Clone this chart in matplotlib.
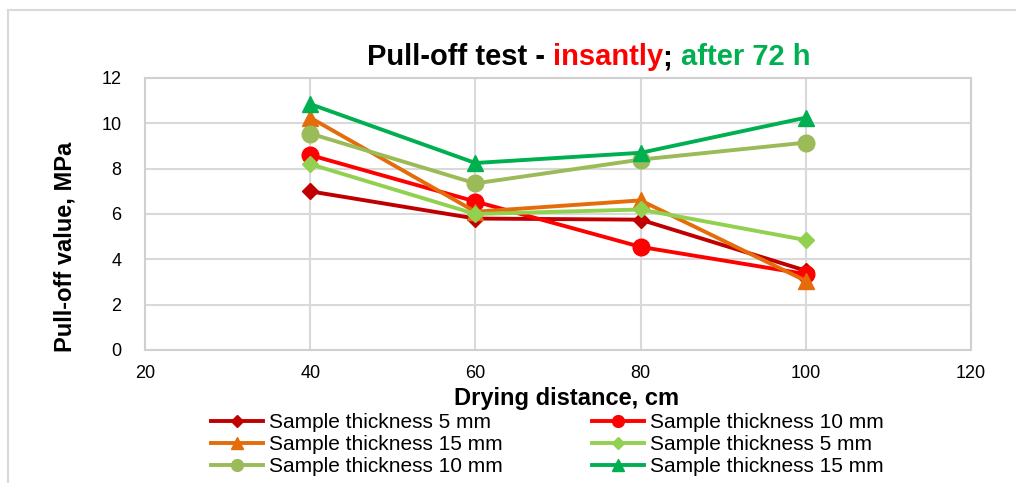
import matplotlib.pyplot as plt
from matplotlib.lines import Line2D

plt.rcParams['font.family'] = ['Liberation Sans', 'DejaVu Sans']

# Drying distance, cm
distance = [40, 60, 80, 100]

# Pull-off values, MPa (insantly)
ins_5mm = [7.0, 5.8, 5.75, 3.5]
ins_10mm = [8.6, 6.55, 4.55, 3.35]
ins_15mm = [10.25, 6.1, 6.6, 3.05]
# Pull-off values, MPa (after 72 h)
h72_5mm = [8.2, 6.0, 6.2, 4.85]
h72_10mm = [9.55, 7.35, 8.4, 9.15]
h72_15mm = [10.85, 8.25, 8.7, 10.25]

labels = ['Sample thickness 5 mm', 'Sample thickness 10 mm', 'Sample thickness 15 mm',
          'Sample thickness 5 mm', 'Sample thickness 10 mm', 'Sample thickness 15 mm']
series = [ins_5mm, ins_10mm, ins_15mm, h72_5mm, h72_10mm, h72_15mm]
colors = ['#C00000', '#FF0000', '#E46C0A', '#92D050', '#9BBB59', '#00B050']
markers = ['D', 'o', '^', 'D', 'o', '^']
msizes = [8, 12, 12, 8, 12, 12]

fig = plt.figure(figsize=(10.16, 4.83), dpi=100)
ax = fig.add_axes([145 / 1016, 1 - 350 / 483, (971 - 145) / 1016, (350 - 78) / 483])

for y, c, m, ms, lab in zip(series, colors, markers, msizes, labels):
    ax.plot(distance, y, color=c, lw=2.8, marker=m, ms=ms, label=lab, zorder=3)

ax.set_xlim(20, 120)
ax.set_ylim(0, 12)
ax.set_xticks(range(20, 121, 20))
ax.set_yticks(range(0, 13, 2))
ax.grid(True, color='#D9D9D9', lw=1.5)
ax.set_axisbelow(True)
for s in ax.spines.values():
    s.set_color('#D0D0D0')
    s.set_linewidth(1.5)
ax.tick_params(length=0, labelsize=13, colors='black')
ax.tick_params(axis='y', pad=17)
ax.tick_params(axis='x', pad=11)

ax.set_xlabel('Drying distance, cm', fontsize=17, fontweight='bold')
ax.set_ylabel('Pull-off value, MPa', fontsize=17, fontweight='bold')
ax.xaxis.set_label_coords(0.51, -0.135)
ax.yaxis.set_label_coords(-0.083, 0.38)

# title in three colours
tsize = 21
t1 = fig.text(367 / 1016, 1 - 65 / 483, 'Pull-off test - ', fontsize=tsize,
              fontweight='bold', color='black')
t2 = fig.text(0, 0, 'insantly', fontsize=tsize, fontweight='bold', color='#FF0000')
t3 = fig.text(0, 0, '; ', fontsize=tsize, fontweight='bold', color='black')
t4 = fig.text(0, 0, 'after 72 h', fontsize=tsize, fontweight='bold', color='#00B050')
fig.canvas.draw()
r = fig.canvas.get_renderer()
prev = t1
for t in (t2, t3, t4):
    bb = prev.get_window_extent(r)
    x0 = bb.x1 / fig.bbox.width
    t.set_position((x0, t1.get_position()[1]))
    fig.canvas.draw()
    prev = t

# legend, filled row by row
lsizes = [6, 8.5, 8.5, 6, 8.5, 8.5]
handles = [Line2D([], [], color=c, lw=2.8, marker=m, ms=ms)
           for c, m, ms in zip(colors, markers, lsizes)]
order = [0, 2, 4, 1, 3, 5]
fig.legend([handles[i] for i in order], [labels[i] for i in order], ncol=2,
           loc='upper left', bbox_to_anchor=(211 / 1016, 1 - 413 / 483),
           frameon=False, fontsize=15, handlelength=2.5, handletextpad=0.3,
           columnspacing=4.25, labelspacing=0.14, borderpad=0, borderaxespad=0)

# chart area frame
fig.add_artist(Line2D([8 / 1016, 1], [1 - 10 / 483, 1 - 10 / 483],
                      transform=fig.transFigure, color='#D9D9D9', lw=1.5))
fig.add_artist(Line2D([8 / 1016, 8 / 1016], [0, 1 - 10 / 483],
                      transform=fig.transFigure, color='#D9D9D9', lw=1.5))

fig.savefig('out.png', dpi=100)
